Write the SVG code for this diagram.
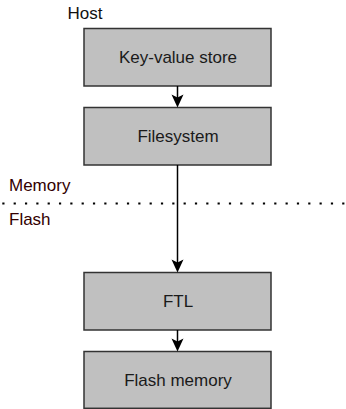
<svg xmlns="http://www.w3.org/2000/svg" width="346" height="409" viewBox="0 0 346 409">
<style>
.box{fill:#c0c0c0;stroke:#333333;stroke-width:1.5}
.lbl{font-family:"Liberation Sans",Arial,sans-serif;font-size:17px;fill:#1a1a1a;text-anchor:middle}
.side{font-family:"Liberation Sans",Arial,sans-serif;font-size:17px;fill:#330000}
.conn{stroke:#000;stroke-width:1.5;fill:none}
.head{fill:#000}
</style>
<rect width="346" height="409" fill="#ffffff"/>
<text class="side" x="67.5" y="19.3" fill="#000" style="fill:#111">Host</text>
<text class="side" x="9" y="190.5">Memory</text>
<text class="side" x="9" y="224.5">Flash</text>
<line x1="2.3" y1="203.5" x2="346" y2="203.5" stroke="#000" stroke-width="2.2" stroke-dasharray="2.2 9.13"/>
<g id="kvstore"><rect class="box" x="84" y="28.5" width="187" height="57.5"/><text class="lbl" x="178" y="62.8">Key-value store</text></g>
<g id="filesystem"><rect class="box" x="84" y="107.5" width="187" height="57.5"/><text class="lbl" x="178" y="142">Filesystem</text></g>
<g id="ftl"><rect class="box" x="84" y="272.5" width="187" height="57.5"/><text class="lbl" x="178" y="306.8">FTL</text></g>
<g id="flashmem"><rect class="box" x="84" y="351.5" width="187" height="56.8"/><text class="lbl" x="178" y="386">Flash memory</text></g>
<g id="connectors">
<line class="conn" x1="177.5" y1="86" x2="177.5" y2="99"/>
<path class="head" d="M177.5 107.5 L171.5 94.5 L177.5 97.5 L183.5 94.5 Z"/>
<line class="conn" x1="177.5" y1="165" x2="177.5" y2="264"/>
<path class="head" d="M177.5 272.5 L171.5 259.5 L177.5 262.5 L183.5 259.5 Z"/>
<line class="conn" x1="177.5" y1="330" x2="177.5" y2="343"/>
<path class="head" d="M177.5 351.5 L171.5 338.5 L177.5 341.5 L183.5 338.5 Z"/>
</g>
</svg>
